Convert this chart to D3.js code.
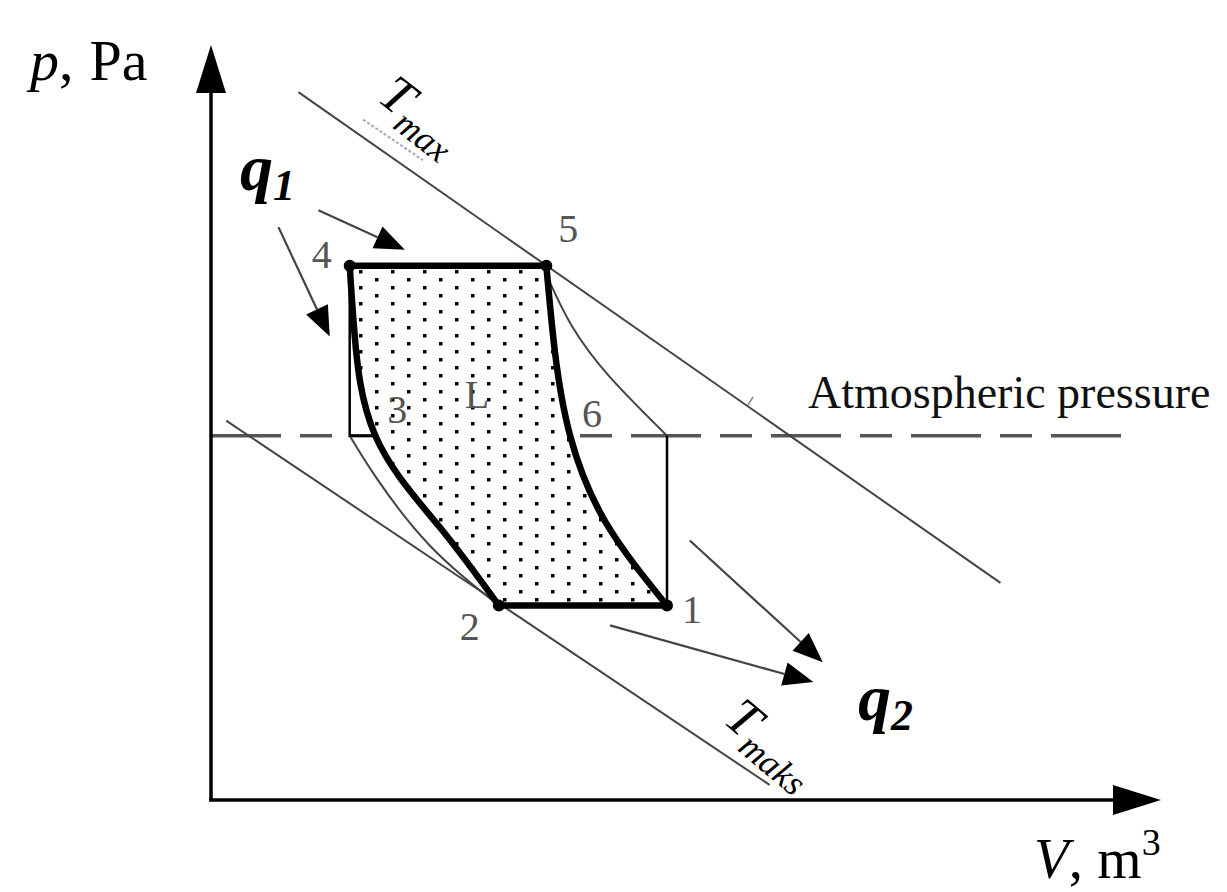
<!DOCTYPE html>
<html>
<head>
<meta charset="utf-8">
<script src="https://cdn.jsdelivr.net/npm/d3@7/dist/d3.min.js"></script>
<style>
  html, body { margin: 0; padding: 0; background: #fff; }
  svg { display: block; }
  text { font-family: "Liberation Serif", "DejaVu Serif", serif; }
</style>
</head>
<body>
<div id="chart"></div>
<script>
// ---------------- data (V in arbitrary units, p in arbitrary units) ----------------
const stateNames = ["1", "2", "3", "4", "5", "6"];
const stateV = [4.80, 3.03, 1.73, 1.46, 3.53, 3.78];
const stateP = [2.06, 2.06, 3.86, 5.66, 5.66, 3.86];

// thick cycle: 5 -> 6 -> 1 (expansion curve)
const expansionV = [3.53, 3.62, 3.78, 4.15, 4.80];
const expansionP = [5.66, 4.75, 3.86, 2.95, 2.06];
// thick cycle: 2 -> 3 -> 4 (compression curve)
const compressionV = [3.03, 2.40, 1.73, 1.51, 1.46];
const compressionP = [2.06, 2.90, 3.86, 4.95, 5.66];

// thin comparison curves
const thinRightV = [3.56, 3.80, 4.20, 4.80];
const thinRightP = [5.50, 5.02, 4.48, 3.86];
const thinLeftV = [1.46, 1.75, 2.30, 3.03];
const thinLeftP = [3.86, 3.40, 2.70, 2.06];

// thin rectangle edges
const rectLeftV = [1.46, 1.46, 1.73];
const rectLeftP = [5.66, 3.86, 3.86];
const rectRightV = [4.80, 4.80];
const rectRightP = [3.86, 2.06];

// isotherms
const tMaxV = [0.92, 8.31];
const tMaxP = [7.50, 2.30];
const tMinV = [0.16, 5.88];
const tMinP = [4.02, 0.16];
const tMaxShadowV = [1.60, 2.23];
const tMaxShadowP = [7.21, 6.78];

// atmospheric pressure
const atmP = 3.86;
const atmV = [0, 9.62];

// heat flow arrows [startV, startP, endV, endP]
const q1Arrows = [[1.13, 6.25, 2.04, 5.83], [0.71, 6.07, 1.25, 4.91]];
const q2Arrows = [[5.04, 2.75, 6.44, 1.46], [4.20, 1.85, 6.34, 1.25]];

const axisDomainV = [0, 10];
const axisDomainP = [0, 8];

// ---------------- drawing ----------------
const W = 1227, H = 892;
const svg = d3.select("#chart").append("svg").attr("width", W).attr("height", H);

const x = d3.scaleLinear().domain(axisDomainV).range([211, 1161]);
const y = d3.scaleLinear().domain(axisDomainP).range([800, 45]);

const defs = svg.append("defs");
const pat = defs.append("pattern").attr("id", "dots")
  .attr("patternUnits", "userSpaceOnUse").attr("width", 32).attr("height", 16)
  .attr("x", 359).attr("y", 270);
pat.append("rect").attr("width", 32).attr("height", 16).attr("fill", "#fff");
pat.append("rect").attr("x", 0).attr("y", 0).attr("width", 3.5).attr("height", 3.5).attr("fill", "#000");
pat.append("rect").attr("x", 16).attr("y", 8).attr("width", 3.5).attr("height", 3.5).attr("fill", "#000");

const line = d3.line().x(d => x(d[0])).y(d => y(d[1]));
const curve = d3.line().x(d => x(d[0])).y(d => y(d[1])).curve(d3.curveNatural);
const zip = (a, b) => a.map((v, i) => [v, b[i]]);

// atmospheric dashed line
svg.append("path").attr("d", line(atmV.map(v => [v, atmP])))
  .attr("stroke", "#555").attr("stroke-width", 3.5).attr("fill", "none")
  .attr("stroke-dasharray", "70 19 32 19");

// isotherms
svg.append("path").attr("d", line(zip(tMaxV, tMaxP)))
  .attr("stroke", "#444").attr("stroke-width", 2).attr("fill", "none");
svg.append("path").attr("d", line(zip(tMinV, tMinP)))
  .attr("stroke", "#444").attr("stroke-width", 2).attr("fill", "none");
svg.append("path").attr("d", line(zip(tMaxShadowV, tMaxShadowP)))
  .attr("stroke", "#aaa").attr("stroke-width", 2).attr("fill", "none")
  .attr("stroke-dasharray", "3 2");

// thin curves & rectangle
svg.append("path").attr("d", curve(zip(thinRightV, thinRightP)))
  .attr("stroke", "#444").attr("stroke-width", 2).attr("fill", "none");
svg.append("path").attr("d", curve(zip(thinLeftV, thinLeftP)))
  .attr("stroke", "#444").attr("stroke-width", 2).attr("fill", "none");
svg.append("path").attr("d", line(zip(rectLeftV, rectLeftP)))
  .attr("stroke", "#000").attr("stroke-width", 2.5).attr("fill", "none");
svg.append("path").attr("d", line(zip(rectRightV, rectRightP)))
  .attr("stroke", "#000").attr("stroke-width", 2.5).attr("fill", "none");

// cycle area
const i1 = 0, i2 = 1, i4 = 3, i5 = 4;
const cycleCurvePath = () => {
  const a = curve(zip(expansionV, expansionP));
  const b = curve(zip(compressionV, compressionP));
  return a + "L" + b.slice(1) + "Z";
};
svg.append("path").attr("d", cycleCurvePath())
  .attr("fill", "url(#dots)").attr("stroke", "none");

// thick cycle strokes
const thick = 6.5;
svg.append("path").attr("d", curve(zip(expansionV, expansionP)))
  .attr("stroke", "#000").attr("stroke-width", thick).attr("fill", "none");
svg.append("path").attr("d", curve(zip(compressionV, compressionP)))
  .attr("stroke", "#000").attr("stroke-width", thick).attr("fill", "none");
svg.append("path").attr("d", line([[stateV[i4], stateP[i4]], [stateV[i5], stateP[i5]]]))
  .attr("stroke", "#000").attr("stroke-width", thick).attr("fill", "none");
svg.append("path").attr("d", line([[stateV[i2], stateP[i2]], [stateV[i1], stateP[i1]]]))
  .attr("stroke", "#000").attr("stroke-width", thick).attr("fill", "none");

// corner dots
[0, 1, 3, 4].forEach(i => {
  svg.append("circle").attr("cx", x(stateV[i])).attr("cy", y(stateP[i])).attr("r", 6).attr("fill", "#000");
});

// state labels
const labelOffsets = {"1": [25, 17], "2": [-29, 34], "3": [22, -13], "4": [-28, 2], "5": [22, -24], "6": [22, -9]};
stateNames.forEach((n, i) => {
  const o = labelOffsets[n];
  svg.append("text").attr("x", x(stateV[i]) + o[0]).attr("y", y(stateP[i]) + o[1])
    .attr("text-anchor", "middle").attr("font-size", 40).attr("fill", "#555").text(n);
});
svg.append("text").attr("x", x(2.8)).attr("y", y(4.15)).attr("text-anchor", "middle")
  .attr("font-size", 40).attr("fill", "#555").text("L");

// heat arrows
function arrow(a) {
  const x0 = x(a[0]), y0 = y(a[1]), x1 = x(a[2]), y1 = y(a[3]);
  const ang = Math.atan2(y1 - y0, x1 - x0);
  const L = 30, hw = 12;
  const bx = x1 - L * Math.cos(ang), by = y1 - L * Math.sin(ang);
  svg.append("line").attr("x1", x0).attr("y1", y0).attr("x2", bx).attr("y2", by)
    .attr("stroke", "#444").attr("stroke-width", 2.2);
  const px = -Math.sin(ang) * hw, py = Math.cos(ang) * hw;
  svg.append("path").attr("d", `M${x1},${y1}L${bx + px},${by + py}L${bx - px},${by - py}Z`).attr("fill", "#000");
}
q1Arrows.forEach(arrow);
q2Arrows.forEach(arrow);

// axes
const axG = svg.append("g");
axG.append("line").attr("x1", x(0)).attr("y1", y(0)).attr("x2", x(0)).attr("y2", y(axisDomainP[1]) + 45)
  .attr("stroke", "#000").attr("stroke-width", 3.5);
axG.append("line").attr("x1", x(0) - 2).attr("y1", y(0)).attr("x2", x(axisDomainV[1]) - 45).attr("y2", y(0))
  .attr("stroke", "#000").attr("stroke-width", 3.5);
axG.append("path").attr("d", `M${x(0)},${y(axisDomainP[1])}L${x(0) - 15},${y(axisDomainP[1]) + 48}L${x(0) + 15},${y(axisDomainP[1]) + 48}Z`).attr("fill", "#000");
axG.append("path").attr("d", `M${x(axisDomainV[1])},${y(0)}L${x(axisDomainV[1]) - 48},${y(0) - 15}L${x(axisDomainV[1]) - 48},${y(0) + 15}Z`).attr("fill", "#000");

// axis labels
const pLab = svg.append("text").attr("x", 30).attr("y", 80).attr("font-size", 58);
pLab.append("tspan").attr("font-style", "italic").text("p");
pLab.append("tspan").text(",");
pLab.append("tspan").attr("dx", 16).text("Pa");
const vLab = svg.append("text").attr("x", 1034).attr("y", 878).attr("font-size", 57);
vLab.append("tspan").attr("font-style", "italic").text("V");
vLab.append("tspan").text(", m");
vLab.append("tspan").attr("font-size", 38).attr("dy", -23).text("3");

// atmospheric label
svg.append("text").attr("x", 808).attr("y", 408).attr("font-size", 46).attr("fill", "#111").text("Atmospheric pressure");
svg.append("line").attr("x1", 748).attr("y1", 405).attr("x2", 753).attr("y2", 397).attr("stroke", "#888").attr("stroke-width", 1.5);

// q labels
function qLabel(px, py, sub) {
  const t = svg.append("text").attr("x", px).attr("y", py).attr("font-size", 66)
    .attr("font-weight", "bold").attr("font-style", "italic");
  t.append("tspan").text("q");
  t.append("tspan").attr("font-size", 44).attr("dy", 10).text(sub);
}
qLabel(240, 190, "1");
qLabel(858, 720, "2");

// isotherm labels
function tLabel(px, py, rot, sub) {
  const t = svg.append("text").attr("transform", `translate(${px},${py}) rotate(${rot})`)
    .attr("font-size", 52).attr("font-style", "italic");
  t.append("tspan").text("T");
  t.append("tspan").attr("font-size", 36).attr("dy", 12).text(sub);
}
tLabel(376, 100, 38, "max");
tLabel(722, 722, 40, "maks");
</script>
</body>
</html>
